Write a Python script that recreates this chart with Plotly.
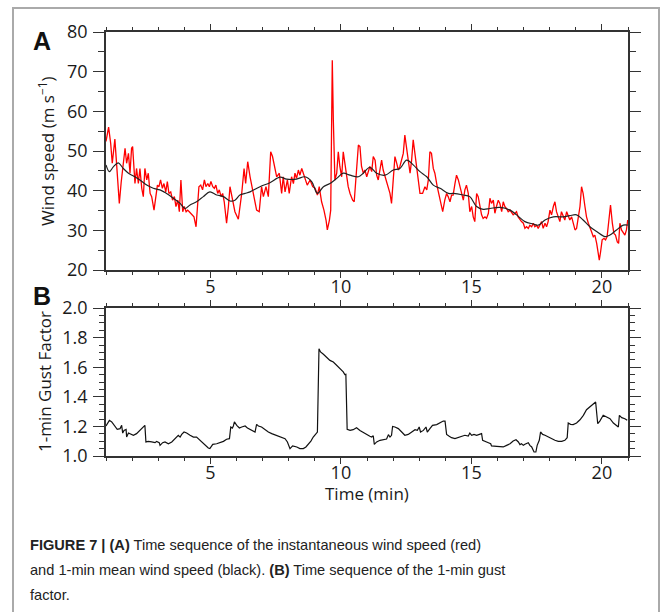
import plotly.graph_objects as go

W, H = 663, 612

# ---------------- data ----------------
# Panel A: instantaneous wind speed (red)
t_inst = [1.00, 1.05, 1.10, 1.18, 1.24, 1.34, 1.43, 1.51, 1.58, 1.66, 1.73, 1.79, 1.86, 1.92, 1.98, 2.02,
          2.07, 2.11, 2.17, 2.24, 2.30, 2.37, 2.43, 2.49, 2.56, 2.62, 2.69, 2.75, 2.84, 2.92, 2.97, 3.03,
          3.09, 3.16, 3.22, 3.29, 3.35, 3.41, 3.48, 3.55, 3.62, 3.68, 3.75, 3.81, 3.87, 3.94, 4.00, 4.07,
          4.13, 4.19, 4.28, 4.37, 4.45, 4.50, 4.56, 4.63, 4.70, 4.77, 4.83, 4.90, 4.96, 5.02, 5.09, 5.15,
          5.21, 5.28, 5.34, 5.41, 5.47, 5.53, 5.62, 5.69,
          5.75, 5.94, 6.07, 6.20, 6.29, 6.35, 6.43, 6.52, 6.64, 6.77, 6.87, 6.96, 7.03, 7.13, 7.22, 7.31,
          7.38, 7.47, 7.54, 7.64, 7.73, 7.79, 7.86, 7.95, 8.02, 8.11, 8.18, 8.24, 8.30, 8.37, 8.43, 8.50,
          8.56, 8.62, 8.71, 8.82, 8.92, 9.01, 9.10, 9.17, 9.26, 9.35, 9.43, 9.48, 9.56, 9.61, 9.65, 9.67,
          9.71, 9.77, 9.84, 9.90, 9.96, 10.03, 10.09, 10.16, 10.22, 10.28, 10.35, 10.45, 10.51, 10.58, 10.67, 10.73,
          10.79, 10.86, 10.92, 10.99, 11.05, 11.11, 11.18, 11.24, 11.31, 11.37, 11.43, 11.50, 11.56, 11.62, 11.69, 11.75,
          11.82, 11.88, 11.94, 12.01, 12.07, 12.14, 12.20, 12.26, 12.33, 12.39, 12.45, 12.52, 12.58, 12.65, 12.71, 12.77,
          12.84, 12.90, 12.97, 13.03, 13.13, 13.22, 13.29, 13.35, 13.41,
          13.47, 13.54, 13.60, 13.69, 13.79, 13.90, 13.98, 14.05, 14.11, 14.18, 14.24, 14.30, 14.37, 14.43, 14.50, 14.56,
          14.62, 14.69, 14.75, 14.81, 14.88, 14.94, 15.01, 15.07, 15.13, 15.20, 15.26, 15.33, 15.39, 15.45, 15.52, 15.58,
          15.65, 15.71, 15.77, 15.84, 15.90, 15.96, 16.03, 16.09, 16.16, 16.22, 16.28, 16.35, 16.41, 16.48, 16.54, 16.60,
          16.67, 16.73, 16.79, 16.86, 16.92, 16.99, 17.05, 17.11, 17.18, 17.24, 17.31, 17.37, 17.43, 17.50, 17.56, 17.62,
          17.69, 17.75, 17.82, 17.88, 17.94, 18.01, 18.07, 18.14, 18.20, 18.26, 18.33, 18.39, 18.45, 18.52, 18.58, 18.65,
          18.71, 18.77, 18.84, 18.90, 18.97, 19.03, 19.09, 19.16, 19.22, 19.28, 19.35, 19.41, 19.48, 19.54, 19.60, 19.67,
          19.73, 19.80, 19.86, 19.90, 19.95, 20.01, 20.08, 20.14, 20.20, 20.27, 20.33, 20.40, 20.46, 20.52, 20.59, 20.64,
          20.69, 20.75, 20.82, 20.88, 20.94, 20.99]
v_inst = [52.4, 54.9, 56.0, 51.9, 46.9, 53.0, 44.0, 36.8, 42.0, 47.7, 50.7, 46.9, 49.4, 44.4, 50.7, 51.1,
          43.5, 41.8, 45.6, 41.8, 45.6, 40.6, 38.5, 45.6, 42.7, 44.4, 39.3, 38.5, 35.1, 38.5, 41.4, 41.0,
          42.7, 40.6, 41.8, 39.7, 42.3, 39.3, 39.7, 37.6, 38.5, 36.0, 37.6, 34.7, 42.7, 34.7, 36.0, 34.7,
          35.1, 34.7, 33.9, 33.4, 30.9, 36.0, 41.0, 41.4, 40.2, 42.7, 41.0, 41.8, 41.0, 42.3, 41.0, 40.6,
          41.4, 39.3, 40.2, 38.5, 39.3, 37.2, 31.8, 36.0,
          41.0, 34.7, 32.8, 39.3, 45.6, 41.8, 47.3, 43.5, 39.3, 35.1, 34.7, 41.0, 38.5, 41.0, 38.5, 49.8,
          48.6, 46.1, 43.5, 44.4, 39.3, 43.5, 39.7, 42.7, 39.3, 43.5, 41.8, 44.4, 43.1, 45.2, 43.9, 45.6,
          44.4, 43.1, 41.4, 42.7, 41.0, 40.6, 38.9, 41.0, 37.2, 35.1, 32.6, 30.1, 32.6, 35.1, 57.8, 72.9,
          57.8, 42.7, 44.4, 49.8, 46.1, 43.5, 49.8, 46.1, 43.5, 41.0, 39.3, 37.6, 37.2, 43.5, 51.5, 51.1,
          46.1, 44.4, 45.2, 43.5, 44.8, 46.1, 44.8, 48.6, 47.7, 43.9, 42.7, 45.2, 47.7, 45.2, 43.5, 42.7,
          41.0, 39.3, 36.8, 43.5, 48.6, 46.9, 45.2, 46.1, 48.2, 49.4, 54.0, 51.1, 47.7, 44.4, 47.7, 52.8,
          49.4, 45.2, 42.7, 39.3, 39.3, 41.0, 40.2, 42.7, 49.8,
          49.4, 45.6, 44.4, 41.0, 37.6, 34.7, 37.6, 39.3, 38.5, 37.2, 38.9, 38.9, 41.8, 43.9, 42.7, 41.0,
          39.3, 37.6, 40.2, 41.4, 39.3, 34.7, 36.0, 33.4, 32.2, 39.3, 38.5, 36.0, 33.9, 33.0, 33.4, 33.0,
          34.3, 38.1, 36.8, 37.6, 34.3, 36.0, 37.6, 36.8, 34.7, 37.2, 36.0, 35.5, 34.7, 35.1, 34.3, 33.9,
          34.3, 34.7, 33.4, 32.6, 32.2, 31.8, 30.5, 30.9, 30.5, 31.3, 30.9, 31.8, 30.9, 31.3, 30.5, 31.3,
          32.2, 30.5, 31.8, 30.9, 32.2, 35.1, 33.9, 36.0, 37.2, 34.7, 33.4, 32.2, 34.7, 33.4, 32.6, 34.7,
          33.4, 32.6, 33.4, 31.8, 30.1, 30.5, 32.6, 36.0, 41.0, 39.3, 36.0, 33.4, 31.8, 30.5, 29.7, 28.4,
          28.8, 26.7, 23.8, 22.5, 24.6, 27.6, 28.0, 27.6, 28.4, 32.6, 36.4, 31.8, 29.2, 28.8, 27.1, 26.7,
          31.8, 30.1, 29.2, 28.8, 30.1, 32.6]

# Panel A: 1-min mean wind speed (black)
t_mean = [1.00, 1.13, 1.28, 1.47, 1.66, 1.86, 2.05, 2.30, 2.56, 2.81, 3.07, 3.32, 3.58, 3.84, 4.03, 4.22,
          4.47, 4.73, 4.98, 5.24, 5.50, 5.75, 5.94, 6.13, 6.33, 6.52, 6.90, 7.28, 7.67, 7.92, 8.30, 8.62,
          8.88, 9.10, 9.33, 9.58, 9.84, 10.09, 10.35, 10.67, 10.86, 11.11, 11.37, 11.69, 12.01, 12.26, 12.52, 12.77,
          13.03, 13.29, 13.54, 13.80, 14.12, 14.30, 14.69, 14.94, 15.20, 15.45, 15.71, 16.09, 16.48, 16.73, 17.05, 17.37,
          17.56, 17.82, 18.14, 18.52, 18.77, 19.03, 19.28, 19.54, 19.80, 20.12, 20.31, 20.56, 20.82, 20.99]
v_mean = [46.5, 44.8, 46.0, 47.0, 45.6, 44.4, 43.7, 42.7, 41.4, 40.6, 40.2, 39.3, 38.1, 36.8, 35.5, 36.4,
          37.2, 38.5, 39.7, 38.9, 38.5, 37.4, 37.6, 38.9, 39.3, 39.7, 41.0, 42.0, 43.4, 42.9, 42.9, 43.5,
          42.3, 39.3, 41.0, 41.8, 43.1, 44.4, 43.9, 43.5, 44.4, 45.9, 44.4, 43.9, 45.2, 45.6, 47.7, 46.5,
          44.8, 43.5, 41.4, 40.6, 39.3, 39.3, 38.9, 38.5, 36.0, 35.3, 35.5, 35.8, 35.1, 33.9, 32.2, 31.6,
          31.3, 32.6, 33.4, 33.4, 33.7, 33.9, 32.6, 30.9, 29.7, 28.4, 28.8, 30.1, 31.3, 31.3]

# Panel B: 1-min gust factor
t_gust = [1.00, 1.13, 1.22, 1.34, 1.43, 1.54, 1.60, 1.64, 1.69, 1.77, 1.79, 1.86, 1.95, 2.05, 2.17, 2.30,
          2.43, 2.49, 2.53, 2.62, 2.75, 2.88, 2.94, 3.04, 3.07, 3.17, 3.26, 3.39, 3.52, 3.61, 3.71, 3.77,
          3.84, 3.90, 3.99, 4.09, 4.22, 4.35, 4.47, 4.54, 4.67, 4.79, 4.92, 4.98, 5.09, 5.24, 5.37, 5.50,
          5.62, 5.73, 5.78, 5.84, 5.88, 5.92, 6.01, 6.11, 6.20, 6.33, 6.42, 6.52, 6.71, 6.77, 6.84, 6.96,
          7.09, 7.22, 7.35, 7.54, 7.73, 7.86, 7.95, 8.05, 8.15, 8.31, 8.43, 8.56, 8.66, 8.75, 8.85, 8.94,
          9.05, 9.10, 9.16, 9.22, 9.33, 9.45, 9.58, 9.71, 9.84, 9.96, 10.09, 10.15, 10.19, 10.24, 10.35, 10.47,
          10.60, 10.73, 10.86, 10.98, 11.11, 11.18, 11.24, 11.28, 11.37, 11.50, 11.62, 11.75, 11.82, 11.88, 11.94, 11.98,
          12.07, 12.20, 12.33, 12.45, 12.58, 12.71, 12.84, 12.93, 13.00, 13.05, 13.16, 13.26, 13.31, 13.41, 13.51, 13.67,
          13.79, 13.92, 13.99, 14.05, 14.15, 14.24, 14.37, 14.50, 14.62, 14.75, 14.88, 14.94, 15.01, 15.10, 15.20, 15.33,
          15.39, 15.43, 15.52, 15.65, 15.74, 15.77, 15.97, 16.09, 16.22, 16.35, 16.48, 16.60, 16.71, 16.80, 16.86, 16.92,
          16.99, 17.05, 17.12, 17.18, 17.24, 17.31, 17.40, 17.47, 17.52, 17.60, 17.65, 17.73, 17.82, 17.95, 18.07, 18.20,
          18.33, 18.46, 18.58, 18.67, 18.71, 18.80, 18.90, 19.03, 19.16, 19.29, 19.41, 19.54, 19.67, 19.76, 19.84, 19.92,
          20.05, 20.18, 20.31, 20.44, 20.56, 20.63, 20.67, 20.76, 20.88, 20.97]
g_gust = [1.203, 1.241, 1.230, 1.196, 1.180, 1.185, 1.207, 1.155, 1.173, 1.180, 1.128, 1.155, 1.146, 1.140, 1.151, 1.173,
          1.196, 1.207, 1.095, 1.099, 1.095, 1.090, 1.099, 1.090, 1.072, 1.090, 1.095, 1.083, 1.095, 1.110, 1.124, 1.140,
          1.128, 1.146, 1.162, 1.155, 1.140, 1.128, 1.128, 1.117, 1.095, 1.072, 1.054, 1.050, 1.079, 1.083, 1.090, 1.099,
          1.113, 1.117, 1.196, 1.189, 1.203, 1.230, 1.207, 1.189, 1.196, 1.203, 1.189, 1.178, 1.162, 1.214, 1.203, 1.196,
          1.178, 1.162, 1.151, 1.140, 1.128, 1.117, 1.095, 1.050, 1.068, 1.061, 1.050, 1.050, 1.061, 1.077, 1.101, 1.128,
          1.151, 1.162, 1.725, 1.703, 1.687, 1.669, 1.646, 1.635, 1.613, 1.590, 1.568, 1.550, 1.552, 1.180, 1.173, 1.178,
          1.191, 1.173, 1.158, 1.144, 1.133, 1.128, 1.137, 1.079, 1.095, 1.106, 1.110, 1.115, 1.144, 1.128, 1.140, 1.200,
          1.196, 1.185, 1.162, 1.140, 1.146, 1.162, 1.178, 1.173, 1.196, 1.162, 1.173, 1.196, 1.162, 1.185, 1.207, 1.212,
          1.223, 1.236, 1.236, 1.146, 1.133, 1.124, 1.117, 1.124, 1.133, 1.140, 1.135, 1.155, 1.140, 1.146, 1.140, 1.146,
          1.151, 1.106, 1.101, 1.090, 1.083, 1.068, 1.065, 1.061, 1.061, 1.072, 1.083, 1.101, 1.110, 1.095, 1.077, 1.083,
          1.072, 1.079, 1.083, 1.090, 1.072, 1.061, 1.027, 1.027, 1.072, 1.106, 1.162, 1.146, 1.140, 1.128, 1.117, 1.106,
          1.099, 1.099, 1.106, 1.124, 1.223, 1.214, 1.212, 1.223, 1.245, 1.275, 1.313, 1.331, 1.349, 1.365, 1.218, 1.236,
          1.275, 1.264, 1.252, 1.223, 1.203, 1.196, 1.275, 1.259, 1.252, 1.241]

x_ticks = [5, 10, 15, 20]

# ---------------- figure ----------------
def px_x(p):
    return p / W

def px_y(p):
    return 1 - p / H

fig = go.Figure()
fig.add_trace(go.Scatter(x=t_inst, y=v_inst, mode="lines",
                         line=dict(color="#ff0000", width=1.3), xaxis="x", yaxis="y",
                         showlegend=False, hoverinfo="skip"))
fig.add_trace(go.Scatter(x=t_mean, y=v_mean, mode="lines", line_shape="spline",
                         line=dict(color="#222222", width=1.2), xaxis="x", yaxis="y",
                         showlegend=False, hoverinfo="skip"))
fig.add_trace(go.Scatter(x=t_gust, y=g_gust, mode="lines",
                         line=dict(color="#111111", width=1.2), xaxis="x2", yaxis="y2",
                         showlegend=False, hoverinfo="skip"))

tick_font = dict(family="Open Sans, Noto Sans, sans-serif", size=18, color="#1a1a1a")
axis_col = "#333333"
xdom = [px_x(106), px_x(628)]

xcommon = dict(range=[1, 21], tickvals=x_ticks, ticks="outside", ticklen=6, tickwidth=1.3,
               tickcolor=axis_col, showline=True, linecolor=axis_col, linewidth=1.5,
               mirror="allticks", showgrid=False, zeroline=False, tickfont=tick_font,
               automargin=False, ticklabelstandoff=-6,
               minor=dict(ticks="outside", ticklen=3, dtick=1, tick0=0, tickcolor=axis_col, tickwidth=1.2,
                          showgrid=False),
               domain=xdom)
fig.update_layout(
    width=W, height=H,
    margin=dict(l=0, r=0, t=0, b=0, autoexpand=False),
    paper_bgcolor="white", plot_bgcolor="white",
    xaxis=dict(anchor="y", **xcommon),
    xaxis2=dict(anchor="y2", **xcommon),
    yaxis=dict(domain=[px_y(270), px_y(32)], anchor="x", range=[20, 80], dtick=10, tick0=0,
               ticks="outside", ticklen=11, tickwidth=1.3, tickcolor=axis_col,
               showline=True, linecolor=axis_col, linewidth=1.5, mirror="allticks",
               showgrid=False, zeroline=False, tickfont=tick_font, ticklabelstandoff=2,
               automargin=False,
               minor=dict(ticks="outside", ticklen=6, dtick=5, tick0=0, tickcolor=axis_col,
                          tickwidth=1.2, showgrid=False)),
    yaxis2=dict(domain=[px_y(456), px_y(308)], anchor="x2", range=[1.0, 2.0], dtick=0.2, tick0=0,
                tickformat=".1f",
                ticks="outside", ticklen=11, tickwidth=1.3, tickcolor=axis_col,
                showline=True, linecolor=axis_col, linewidth=1.5, mirror="allticks",
                showgrid=False, zeroline=False, tickfont=tick_font, ticklabelstandoff=2,
                automargin=False,
                minor=dict(ticks="outside", ticklen=5, dtick=0.05, tick0=0, tickcolor=axis_col,
                           tickwidth=1.2, showgrid=False)),
)

ann_font = dict(family="Open Sans, Noto Sans, sans-serif", size=17, color="#1a1a1a")
annotations = [
    dict(text="<b>A</b>", x=px_x(42), y=px_y(41), font=dict(family="Liberation Sans, Arial, sans-serif", size=25, color="#111111")),
    dict(text="<b>B</b>", x=px_x(42), y=px_y(296), font=dict(family="Liberation Sans, Arial, sans-serif", size=25, color="#111111")),
    dict(text="Wind speed (m s<sup>−1</sup>)", x=px_x(46), y=px_y(151), textangle=-90, font=ann_font),
    dict(text="1-min Gust Factor", x=px_x(44), y=px_y(382), textangle=-90, font=ann_font),
    dict(text="Time (min)", x=px_x(367), y=px_y(493), font=ann_font),
]
cap_font = dict(family="Liberation Sans, Arial, sans-serif", size=14.6, color="#222222")
captions = [
    "<b>FIGURE 7 | (A)</b> Time sequence of the instantaneous wind speed (red)",
    "and 1-min mean wind speed (black). <b>(B)</b> Time sequence of the 1-min gust",
    "factor.",
]
for i, c in enumerate(captions):
    annotations.append(dict(text=c, x=px_x(28), y=px_y(545 + 25 * i), xanchor="left", font=cap_font))

for a in annotations:
    a.setdefault("xanchor", "center")
    a.update(xref="paper", yref="paper", showarrow=False, yanchor="middle")
fig.update_layout(annotations=annotations)

fig.add_shape(type="rect", xref="paper", yref="paper",
              x0=px_x(13), x1=px_x(659), y0=-0.02, y1=px_y(8),
              line=dict(color="#aaaaaa", width=2), fillcolor="rgba(0,0,0,0)", layer="below")

fig.write_html("out.html")
